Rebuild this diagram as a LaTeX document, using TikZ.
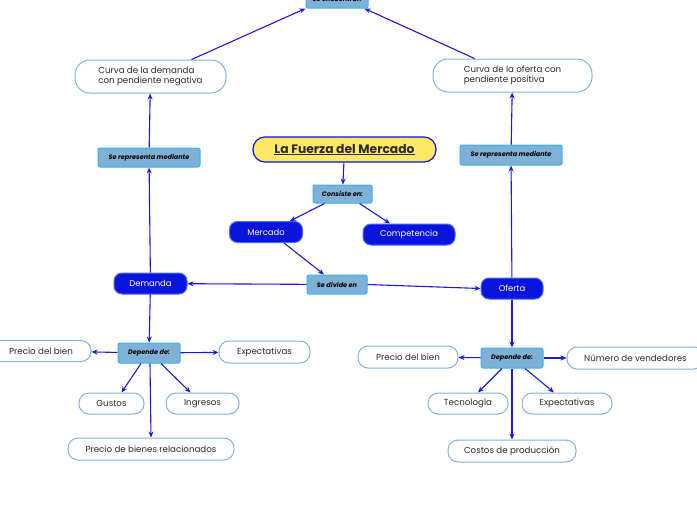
\documentclass[tikz,border=0pt]{standalone}
\usepackage{fontspec}
\setmainfont{Poppins}
\usetikzlibrary{arrows.meta}
\definecolor{linkc}{HTML}{1A1AE0}
\definecolor{darkb}{HTML}{0A14DC}
\definecolor{darkbord}{HTML}{4A6CF0}
\definecolor{lblfill}{HTML}{7FB0D6}
\definecolor{lblbord}{HTML}{38B4F2}
\definecolor{outb}{HTML}{82B3DE}
\definecolor{titfill}{HTML}{FFE866}
\definecolor{txt}{HTML}{2A2A2A}
\tikzset{
  x=1pt, y=-1pt,
  lbl/.style={draw=lblbord, fill=lblfill, line width=1pt, rounded corners=2pt, inner sep=0pt,
    font=\fontsize{6.5}{7.5}\selectfont\bfseries\itshape, text=black},
  dbox/.style={draw=darkbord, fill=darkb, line width=1pt, rounded corners=8pt, inner sep=0pt,
    font=\fontsize{8.4}{9.5}\selectfont, text=white},
  obox/.style={draw=outb, fill=white, line width=1pt, rounded corners=10pt, inner sep=0pt,
    font=\fontsize{8.7}{10.5}\selectfont, text=txt},
  lnk/.style={draw=linkc, line width=1.1pt, -{Stealth[length=6pt,width=5pt]}},
}
\begin{document}
\begin{tikzpicture}
\useasboundingbox (0,0) rectangle (697,520);
\fill[white] (0,0) rectangle (697,520);
\clip (0,0) rectangle (697,520);
% nodes
\node[lbl, minimum width=62pt, minimum height=18pt] (top) at (337,-1) {Se encuentran};
\node[draw=darkb, fill=titfill, line width=1.2pt, rounded corners=12pt, minimum width=183pt, minimum height=25pt, inner sep=0pt,
  font=\fontsize{12.3}{14}\selectfont\bfseries, text=txt] (title) at (344.5,149.5) {\underline{La Fuerza del Mercado}};
\node[lbl, minimum width=59pt, minimum height=18pt] (cons) at (342.5,194) {Consiste en:};
\node[dbox, minimum width=73pt, minimum height=21pt] (merc) at (266,232) {Mercado};
\node[dbox, minimum width=92pt, minimum height=21pt] (comp) at (409,234.5) {Competencia};
\node[lbl, minimum width=60pt, minimum height=19pt] (div) at (337,284.5) {Se divide en};
\node[dbox, minimum width=73pt, minimum height=21pt] (dem) at (150.5,283.5) {Demanda};
\node[dbox, minimum width=62pt, minimum height=21pt] (ofe) at (512,288.5) {Oferta};
\node[lbl, minimum width=102pt, minimum height=19pt] (repL) at (149,157.5) {Se representa mediante};
\node[lbl, minimum width=102pt, minimum height=20pt] (repR) at (511,155) {Se representa mediante};
\node[obox, minimum width=151pt, minimum height=33pt, rounded corners=15pt, align=left] (curD) at (150.5,76.5) {Curva de la demanda\\con pendiente negativa};
\node[obox, minimum width=159pt, minimum height=33pt, rounded corners=15pt, align=left] (curO) at (512.5,75.5) {Curva de la oferta con\\pendiente positiva};
% demand side
\node[lbl, minimum width=62pt, minimum height=20pt] (depL) at (149,353) {Depende de:};
\node[obox, minimum width=100pt, minimum height=21pt] (pbL) at (41,351) {Precio del bien};
\node[obox, minimum width=91pt, minimum height=22pt] (expL) at (264.5,352) {Expectativas};
\node[obox, minimum width=65pt, minimum height=21pt] (gus) at (111.5,403.5) {Gustos};
\node[obox, minimum width=73pt, minimum height=21pt] (ing) at (202.5,403.5) {Ingresos};
\node[obox, minimum width=166pt, minimum height=22pt] (pbr) at (151,449) {Precio de bienes relacionados};
% supply side
\node[lbl, minimum width=62pt, minimum height=20pt] (depR) at (512,358) {Depende de:};
\node[obox, minimum width=100pt, minimum height=22pt] (pbR) at (408,357) {Precio del bien};
\node[obox, minimum width=137pt, minimum height=22pt] (nv) at (635.5,358) {Número de vendedores};
\node[obox, minimum width=80pt, minimum height=21pt] (tec) at (468,403.5) {Tecnología};
\node[obox, minimum width=90pt, minimum height=21pt] (expR) at (567,403.5) {Expectativas};
\node[obox, minimum width=128pt, minimum height=22pt] (cos) at (512,451) {Costos de producción};
% connectors
\draw[lnk] ([xshift=41pt]curD.north) -- (top.south west);
\draw[lnk] ([xshift=-38pt]curO.north) -- ([xshift=-4pt]top.south east);
\draw[lnk] (repL) -- (curD);
\draw[lnk] (dem) -- (repL);
\draw[lnk] (ofe) -- (repR);
\draw[lnk] (repR) -- (curO);
\draw[lnk] (title) -- (cons);
\draw[lnk] ([xshift=-18pt]cons.south) -- ([xshift=24pt]merc.north);
\draw[lnk] ([xshift=17pt]cons.south) -- ([xshift=-19pt]comp.north);
\draw[lnk] ([xshift=18pt]merc.south) -- ([xshift=-13pt]div.north);
\draw[lnk] (div) -- (dem);
\draw[lnk] (div.east) -- (ofe.west);
\draw[lnk] (dem) -- (depL);
\draw[lnk] (depL) -- (pbL);
\draw[lnk] (depL) -- (expL);
\draw[lnk] ([xshift=-8pt]depL.south) -- ([xshift=10pt]gus.north);
\draw[lnk] ([xshift=12pt]depL.south) -- ([xshift=-12pt]ing.north);
\draw[lnk] ([xshift=1pt]depL.south) -- (pbr.north);
\draw[lnk] (ofe) -- (depR);
\draw[lnk] (depR) -- (pbR);
\draw[lnk] (depR) -- (nv.west);
\draw[lnk] ([xshift=-10pt]depR.south) -- ([xshift=10pt]tec.north);
\draw[lnk] ([xshift=13pt]depR.south) -- ([xshift=-13pt]expR.north);
\draw[lnk] (depR) -- (cos);
\end{tikzpicture}
\end{document}
